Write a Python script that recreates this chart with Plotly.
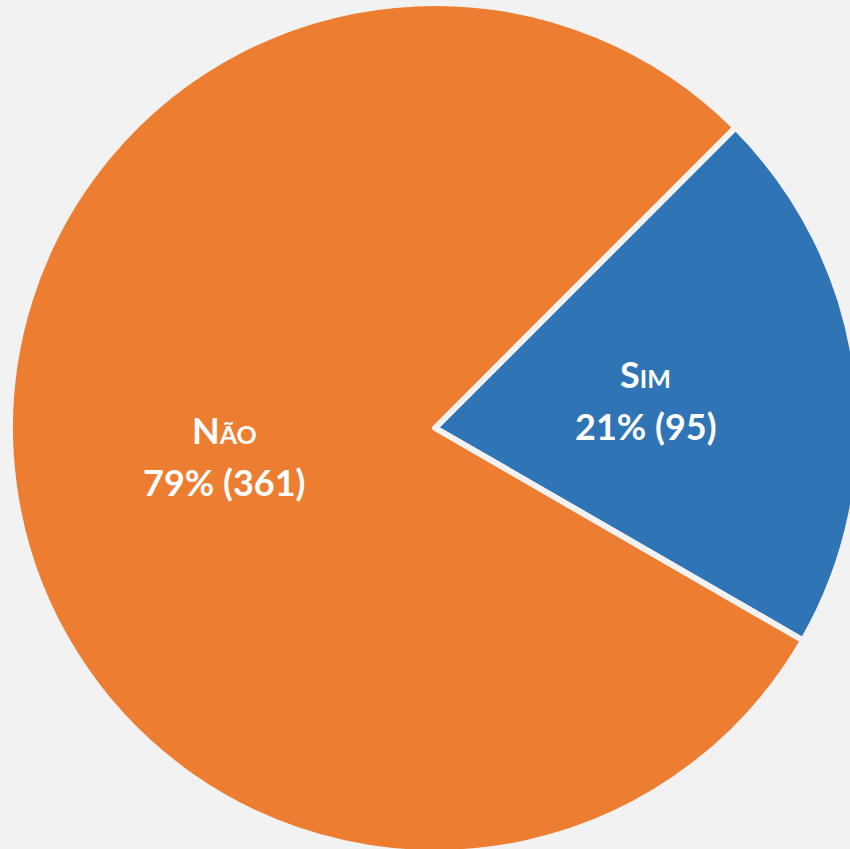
import math
import plotly.graph_objects as go

labels = ["Sim", "Não"]
values = [95, 361]
colors = ["#2F75B5", "#ED7D31"]

ROTATION = 45  # first slice starts 45° clockwise from 12 o'clock

fig = go.Figure(go.Pie(
    labels=labels,
    values=values,
    sort=False,
    direction="clockwise",
    rotation=ROTATION,
    marker=dict(colors=colors, line=dict(color="#F2F2F2", width=6)),
    textinfo="none",
    hoverinfo="skip",
    showlegend=False,
))

# labels placed at half radius on each slice's bisector
total = sum(values)
start = ROTATION
font = dict(family="Lato", size=36, color="white", weight="bold", variant="small-caps")
for lab, val in zip(labels, values):
    span = 360 * val / total
    mid = math.radians(start + span / 2)
    start += span
    x = 0.5 + 0.25 * math.sin(mid)
    y = 0.5 + 0.25 * math.cos(mid)
    pct = round(100 * val / total)
    fig.add_annotation(x=x, y=y, xref="paper", yref="paper", text=lab,
                       xanchor="center", yanchor="middle",
                       showarrow=False, font=font, yshift=26)
    fig.add_annotation(x=x, y=y, xref="paper", yref="paper", text=f"{pct}% ({val})",
                       xanchor="center", yanchor="middle",
                       showarrow=False, font=font, yshift=-26)

fig.update_layout(
    width=870,
    height=853,
    margin=dict(l=10, r=10, t=3, b=0),
    paper_bgcolor="#F2F2F2",
    plot_bgcolor="#F2F2F2",
)

fig.write_html(
    "out.html",
    config={"displayModeBar": False},
    post_script="document.body.style.margin='0';document.body.style.overflow='hidden';"
                "document.body.style.background='#F2F2F2';",
)
